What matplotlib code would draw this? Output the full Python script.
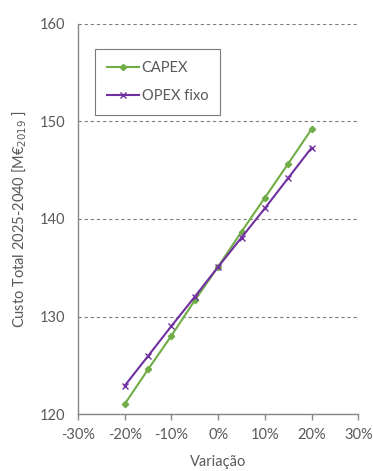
import matplotlib
matplotlib.use("Agg")
import matplotlib.pyplot as plt
from matplotlib.ticker import FuncFormatter

plt.rcParams['font.family'] = ['Lato', 'DejaVu Sans']

variation = [-20, -15, -10, -5, 0, 5, 10, 15, 20]
capex = [121.05, 124.6, 128.05, 131.67, 135.12, 138.7, 142.18, 145.67, 149.2]
opex_fixo = [122.93, 125.97, 129.04, 132.04, 135.1, 138.1, 141.1, 144.2, 147.3]

x_ticks = [-30, -20, -10, 0, 10, 20, 30]
y_ticks = [120, 130, 140, 150, 160]

text_color = '#595959'
green = '#70AD47'
purple = '#7030A0'

fig = plt.figure(figsize=(3.73, 4.71), dpi=100)
ax = fig.add_axes([78 / 373, 1 - 414.3 / 471, (358.3 - 78) / 373, (414.3 - 23.7) / 471])

ax.plot(variation, capex, color=green, lw=1.5, marker='D', ms=3.2, label='CAPEX')
ax.plot(variation, opex_fixo, color=purple, lw=1.5, marker='x', ms=5, mew=1.0, label='OPEX fixo')

ax.set_xlim(-30, 30)
ax.set_ylim(120, 160)
ax.set_xticks(x_ticks)
ax.set_yticks(y_ticks)
ax.xaxis.set_major_formatter(FuncFormatter(lambda v, p: f'{int(v)}%'))

ax.grid(axis='y', color='#7f7f7f', ls=(0, (3, 2.5)), lw=0.8)
ax.set_axisbelow(True)
for s in ['top', 'right']:
    ax.spines[s].set_visible(False)
for s in ['left', 'bottom']:
    ax.spines[s].set_color('#868686')
    ax.spines[s].set_linewidth(1.0)

ax.tick_params(axis='x', colors='#868686', labelcolor=text_color, labelsize=10.5,
               direction='out', length=4, width=1.0, pad=6)
ax.tick_params(axis='y', length=0, labelcolor=text_color, labelsize=10.5, pad=9)

ax.set_xlabel('Variação', color=text_color, fontsize=10.5, labelpad=9)
ax.set_ylabel('Custo Total 2025-2040 [M€$_{2019}$ ]', color=text_color, fontsize=10.5, labelpad=8)

leg = ax.legend(loc='upper left', bbox_to_anchor=((95 - 78) / 280.3, (414.3 - 49) / 390.6),
                frameon=True, fancybox=False, edgecolor='#595959', fontsize=10.5,
                handlelength=2.2, borderpad=0.8, labelspacing=1.0, handletextpad=0.2,
                borderaxespad=0)
leg.get_frame().set_linewidth(0.8)
for t in leg.get_texts():
    t.set_color(text_color)

fig.savefig('out.png', dpi=100)
